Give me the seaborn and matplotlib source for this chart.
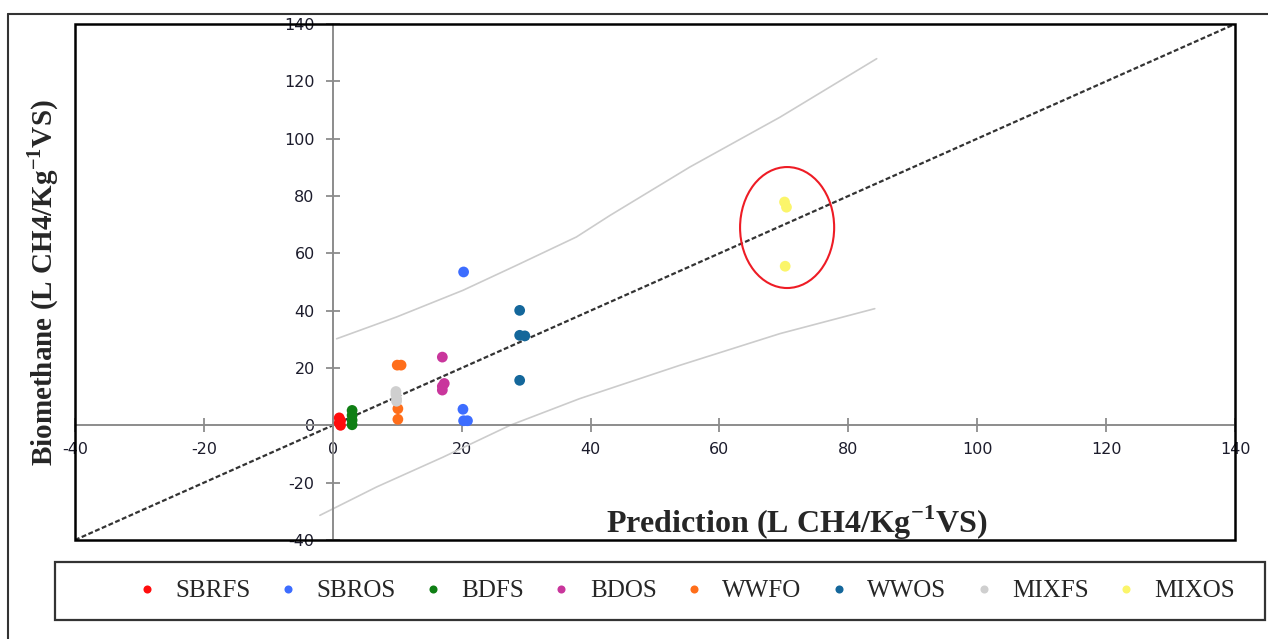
import pandas as pd
import matplotlib
matplotlib.use("Agg")
import matplotlib.pyplot as plt
import seaborn as sns
from matplotlib.patches import Ellipse, Rectangle
from matplotlib.lines import Line2D

# measured vs predicted biomethane yield per substrate group
groups = ["SBRFS", "SBROS", "BDFS", "BDOS", "WWFO", "WWOS", "MIXFS", "MIXOS"]
colors = ["#ff0d0d", "#3d6dff", "#0f7f14", "#c9369c", "#ff6e1a", "#14679b", "#cfcfcf", "#fbf56a"]

pred_sbrfs = [1.0, 1.2, 1.0, 1.2]
bio_sbrfs = [2.6, 1.6, 0.8, 0.0]
pred_sbros = [20.3, 20.2, 20.3, 20.9]
bio_sbros = [53.5, 5.6, 1.6, 1.6]
pred_bdfs = [3.0, 3.0, 3.0, 3.0]
bio_bdfs = [5.2, 3.5, 1.8, 0.2]
pred_bdos = [17.0, 17.3, 17.0, 17.0]
bio_bdos = [23.8, 14.6, 13.6, 12.3]
pred_wwfo = [10.0, 10.6, 10.1, 10.1]
bio_wwfo = [21.0, 21.0, 5.8, 2.1]
pred_wwos = [29.0, 29.0, 29.8, 29.0]
bio_wwos = [40.1, 31.4, 31.2, 15.7]
pred_mixfs = [9.8, 9.8, 9.9, 9.9]
bio_mixfs = [11.8, 10.8, 9.2, 8.4]
pred_mixos = [70.1, 70.4, 70.2]
bio_mixos = [77.9, 76.1, 55.5]

# 1:1 line and the prediction band
identity = [-40, 140]
upper_x = [0.6, 9.9, 20.2, 28.5, 37.8, 43.0, 55.4, 69.4, 84.4]
upper_y = [30.2, 37.8, 47.1, 55.8, 65.7, 73.2, 90.1, 107.5, 127.9]
lower_x = [-2.0, 6.8, 17.1, 27.5, 38.3, 53.8, 69.4, 84.1]
lower_y = [-31.4, -21.5, -11.1, 0.0, 9.3, 20.9, 32.0, 40.7]

ticks = [-40, -20, 0, 20, 40, 60, 80, 100, 120, 140]

pred_all = [pred_sbrfs, pred_sbros, pred_bdfs, pred_bdos, pred_wwfo, pred_wwos, pred_mixfs, pred_mixos]
bio_all = [bio_sbrfs, bio_sbros, bio_bdfs, bio_bdos, bio_wwfo, bio_wwos, bio_mixfs, bio_mixos]

frames = []
for name, px, by in zip(groups, pred_all, bio_all):
    frames.append(pd.DataFrame({"Prediction": px, "Biomethane": by, "Group": name}))
df = pd.concat(frames, ignore_index=True)

sns.set_style("white")
plt.rcParams["font.family"] = ["DejaVu Sans"]
plt.rcParams["axes.unicode_minus"] = False
plt.rcParams["mathtext.fontset"] = "custom"
plt.rcParams["mathtext.rm"] = "Liberation Serif:bold"
plt.rcParams["mathtext.bf"] = "Liberation Serif:bold"

fig = plt.figure(figsize=(12.68, 6.39), dpi=100)
ax = fig.add_axes([75 / 1268, 1 - 540 / 639, 1160 / 1268, 516 / 639])

ax.plot(identity, identity, color="#333333", lw=1.6, ls=(0, (2.2, 1.1)), zorder=2)
sns.lineplot(x=upper_x, y=upper_y, color="#cccccc", lw=1.2, ax=ax, sort=False, estimator=None)
sns.lineplot(x=lower_x, y=lower_y, color="#cccccc", lw=1.2, ax=ax, sort=False, estimator=None)

sns.scatterplot(data=df, x="Prediction", y="Biomethane", hue="Group", hue_order=groups,
                palette=colors, s=60, edgecolor="none", ax=ax, zorder=3)
handles, labels = ax.get_legend_handles_labels()
ax.get_legend().remove()

ax.add_patch(Ellipse((70.5, 69.0), 14.6, 42.2, fill=False, ec="#ee1c25", lw=1.5, zorder=4))

ax.set_xlim(-40, 140)
ax.set_ylim(-40, 140)
ax.set_xticks(ticks)
ax.set_yticks(ticks)
ax.set_xlabel("")
ax.set_ylabel("")

for side in ["top", "right"]:
    ax.spines[side].set_visible(False)
for side in ["left", "bottom"]:
    ax.spines[side].set_position(("data", 0))
    ax.spines[side].set_color("#8c8c8c")
    ax.spines[side].set_linewidth(1.4)
ax.tick_params(bottom=True, left=True, direction="inout", length=10, width=1.3,
               color="#8c8c8c", labelsize=11.5, labelcolor="#1c1c2c")
ax.tick_params(axis="x", pad=7)
ax.tick_params(axis="y", pad=8)

# chart frame
ax.add_patch(Rectangle((0, 0), 1, 1, transform=ax.transAxes, fill=False,
                       ec="black", lw=1.8, clip_on=False, zorder=5))

fig.text(797 / 1268, 1 - 523 / 639, "Prediction (L CH4/Kg$^{\\mathbf{-1}}$VS)",
         family="Liberation Serif", weight="bold", size=23, ha="center", va="center")
fig.text(43 / 1268, 1 - 283 / 639, "Biomethane (L CH4/Kg$^{\\mathbf{-1}}$VS)",
         family="Liberation Serif", weight="bold", size=21, ha="center", va="center",
         rotation=90)

# outer border
fig.add_artist(Line2D([8 / 1268, 1], [1 - 14 / 639, 1 - 14 / 639], transform=fig.transFigure,
                      color="#333333", lw=1.5))
fig.add_artist(Line2D([8 / 1268, 8 / 1268], [0, 1 - 14 / 639], transform=fig.transFigure,
                      color="#333333", lw=1.5))

# legend box
fig.add_artist(Rectangle((55 / 1268, 1 - 620 / 639), 1210 / 1268, 58 / 639,
                         transform=fig.transFigure, fill=False, ec="#333333", lw=1.6))
fig.legend(handles, labels, loc="center", bbox_to_anchor=(686 / 1268, 1 - 591 / 639),
           ncol=8, frameon=False, prop={"family": "Liberation Serif", "size": 18},
           handlelength=0.8, handletextpad=0.75, columnspacing=1.08, markerscale=0.75)

fig.savefig("out.png", dpi=100)
